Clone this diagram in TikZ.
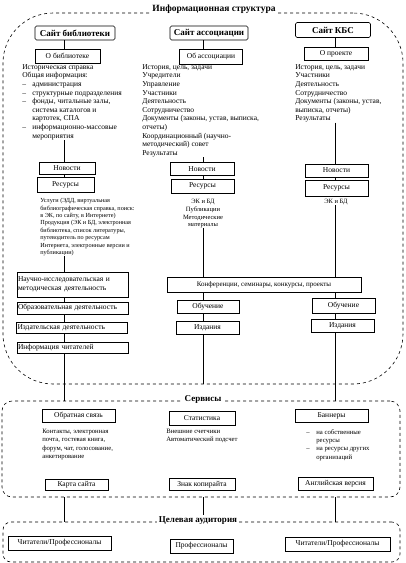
\documentclass[tikz,border=0pt]{standalone}
\usepackage{fontspec}
\setmainfont{Liberation Serif}
\usetikzlibrary{positioning}

\newcommand{\dashitem}{\makebox[10pt][l]{–}}
\newcommand{\dashskip}{\hspace*{10pt}}

\begin{document}
\begin{tikzpicture}[x=1pt,y=-1pt,line width=0.6pt,
  region/.style={draw,dashed,inner sep=0pt},
  head/.style={fill=white,inner sep=1.5pt,font=\fontsize{9.5}{11}\selectfont\bfseries},
  site node/.style={draw,rounded corners=1.5pt,inner sep=0pt,font=\fontsize{9}{10}\selectfont\bfseries},
  main node/.style={draw,inner sep=0pt,font=\fontsize{7.5}{9}\selectfont},
  wide node/.style={draw,inner xsep=1pt,inner ysep=0pt,text width=109pt,align=left,font=\fontsize{7.5}{9}\selectfont},
  note/.style={inner sep=0pt,anchor=north west,align=left,font=\fontsize{7.5}{8.6}\selectfont},
  wh/.style 2 args={minimum width=#1,minimum height=#2}]

  \useasboundingbox (0,0) rectangle (406,563);
  \coordinate (c1) at (64,0);
  \coordinate (c2) at (203,0);
  \coordinate (c3) at (335,0);

  % three regions
  \node[region,wh={400pt}{371pt},rounded corners=50pt] (info) at (203,198.5) {};
  \node[head] (infotitle) at (214,9) {Информационная структура};
  \node[region,wh={398pt}{96pt},rounded corners=10pt] (serv) at (201,449) {};
  \node[head,font=\fontsize{9}{10}\selectfont\bfseries] (servtitle) at (203,399) {Сервисы};
  \node[region,wh={397pt}{40pt},rounded corners=8pt] (aud) at (201.5,542) {};
  \node[head,font=\fontsize{9}{10}\selectfont\bfseries] (audtitle) at (198,521) {Целевая аудитория};

  % sites
  \node[site node,wh={80pt}{14pt}] (site1) at (75,33) {Сайт библиотеки};
  \node[site node,wh={78pt}{14pt}] (site2) at (209,33) {Сайт ассоциации};
  \node[site node,wh={75pt}{15pt}] (site3) at (333,30) {Сайт КБС};

  \node[main node,wh={65pt}{14pt}] (about1) at (67.5,56) {О библиотеке};
  \node[main node,wh={63pt}{15pt}] (about2) at (211,57) {Об ассоциации};
  \node[main node,wh={64pt}{13pt}] (about3) at (336,53.5) {О проекте};

  \node[note] (text1) at (22,64) {Историческая справка\\Общая информация:\\
    \dashitem администрация\\\dashitem структурные подразделения\\
    \dashitem фонды, читальные залы,\\\dashskip система каталогов и\\
    \dashskip картотек, СПА\\\dashitem информационно-массовые\\\dashskip мероприятия};
  \node[note] (text2) at (142,64) {История, цель, задачи\\Учредители\\Управление\\
    Участники\\Деятельность\\Сотрудничество\\Документы (законы, устав, выписка,\\
    отчеты)\\Координационный (научно-\\методический) совет\\Результаты};
  \node[note] (text3) at (295,64) {История, цель, задачи\\Участники\\Деятельность\\
    Сотрудничество\\Документы (законы, устав,\\выписка, отчеты)\\Результаты};

  % news and resources
  \node[main node,wh={56pt}{12pt}] (news1) at (67,168.5) {Новости};
  \node[main node,wh={57pt}{15pt}] (res1) at (65.5,184.5) {Ресурсы};
  \node[main node,wh={64pt}{13pt}] (news2) at (202,169) {Новости};
  \node[main node,wh={63pt}{14pt}] (res2) at (202.5,186) {Ресурсы};
  \node[main node,wh={63pt}{13pt}] (news3) at (336.5,170.5) {Новости};
  \node[main node,wh={63pt}{16pt}] (res3) at (336.5,188) {Ресурсы};

  \node[note,font=\fontsize{6.2}{7.4}\selectfont] (restext1) at (40,198) {Услуги (ЭДД, виртуальная\\
    библиографическая справка, поиск:\\в ЭК, по сайту, в Интернете)\\
    Продукция (ЭК и БД, электронная\\библиотека, список литературы,\\
    путеводитель по ресурсам\\Интернета, электронные версии и\\публикации)};
  \node[note,anchor=north,align=center,font=\fontsize{6.5}{7.7}\selectfont] (restext2) at (203,199)
    {ЭК и БД\\Публикации\\Методические\\материалы};
  \node[note,anchor=north,font=\fontsize{6.5}{7.7}\selectfont] (restext3) at (336,199) {ЭК и БД};

  % activities
  \node[wide node,minimum height=25pt] (science1) at (72.5,284.5) {Научно-исследовательская и\\методическая деятельность};
  \node[wide node,minimum height=12pt] (edu1) at (72.5,308) {Образовательная деятельность};
  \node[wide node,minimum height=11pt] (publ1) at (72,327.5) {Издательская деятельность};
  \node[wide node,minimum height=11pt] (readers1) at (72.5,347.5) {Информация читателей};

  \node[main node,wh={194pt}{15pt},font=\fontsize{7}{8}\selectfont] (conf) at (264,284.5) {Конференции, семинары, конкурсы, проекты};
  \node[main node,wh={62pt}{13pt}] (learn2) at (208,306.5) {Обучение};
  \node[main node,wh={63pt}{13pt}] (editions2) at (207.5,327.5) {Издания};
  \node[main node,wh={63pt}{15pt}] (learn3) at (343.5,305.5) {Обучение};
  \node[main node,wh={63pt}{13pt}] (editions3) at (342.5,325.5) {Издания};

  % services
  \node[main node,wh={73pt}{13pt}] (feedback) at (78.5,416) {Обратная связь};
  \node[main node,wh={66pt}{14pt}] (stats) at (202,418) {Статистика};
  \node[main node,wh={73pt}{13pt}] (banners) at (331.5,415.5) {Баннеры};

  \node[note,font=\fontsize{6.7}{8.3}\selectfont] (fbtext) at (42,429) {Контакты, электронная\\
    почта, гостевая книга,\\форум, чат, голосование,\\анкетирование};
  \node[note,font=\fontsize{6.7}{8.3}\selectfont] (stattext) at (166,429) {Внешние счетчики\\Автоматический подсчет};
  \node[note,font=\fontsize{6.7}{8.3}\selectfont] (bantext) at (306,429) {\dashitem на собственные\\
    \dashskip ресурсы\\\dashitem на ресурсы других\\\dashskip организаций};

  \node[main node,wh={63pt}{11pt}] (sitemap) at (76.5,484.5) {Карта сайта};
  \node[main node,wh={66pt}{12pt}] (copyright) at (202,484.5) {Знак копирайта};
  \node[main node,wh={75pt}{13pt}] (english) at (335.5,483.5) {Английская версия};

  % audience
  \node[main node,wh={103pt}{14pt}] (aud1) at (59.5,543) {Читатели/Профессионалы};
  \node[main node,wh={63pt}{14pt}] (aud2) at (201.5,546) {Профессионалы};
  \node[main node,wh={105pt}{14pt}] (aud3) at (337.5,544) {Читатели/Профессионалы};

  % column lines
  \draw (site1.south -| c1) -- (about1.north -| c1);
  \draw (text1.south -| c1) -- (news1.north -| c1);
  \draw (news1.south -| c1) -- (res1.north -| c1);
  \draw (restext1.south -| c1) -- (science1.north -| c1);
  \draw (science1.south -| c1) -- (edu1.north -| c1);
  \draw (edu1.south -| c1) -- (publ1.north -| c1);
  \draw (publ1.south -| c1) -- (readers1.north -| c1);
  \draw (readers1.south -| c1) -- (serv.north -| c1);

  \draw (site2.south -| c2) -- (about2.north -| c2);
  \draw (text2.south -| c2) -- (news2.north -| c2);
  \draw (news2.south -| c2) -- (res2.north -| c2);
  \draw (restext2.south -| c2) -- (conf.north -| c2);
  \draw (conf.south -| c2) -- (learn2.north -| c2);
  \draw (learn2.south -| c2) -- (editions2.north -| c2);
  \draw (editions2.south -| c2) -- (info.south -| c2);

  \draw (site3.south -| c3) -- (about3.north -| c3);
  \draw (text3.south -| c3) -- (news3.north -| c3);
  \draw (news3.south -| c3) -- (res3.north -| c3);
  \draw (restext3.south -| c3) -- (conf.north -| c3);
  \draw (conf.south -| c3) -- (learn3.north -| c3);
  \draw (learn3.south -| c3) -- (editions3.north -| c3);
  \draw (editions3.south -| c3) -- (serv.north -| c3);

  \draw (serv.south -| c1) -- (aud.north -| c1);
  \draw (serv.south -| c2) -- (audtitle.north -| c2);
  \draw (serv.south -| c3) -- (aud.north -| c3);
\end{tikzpicture}
\end{document}
